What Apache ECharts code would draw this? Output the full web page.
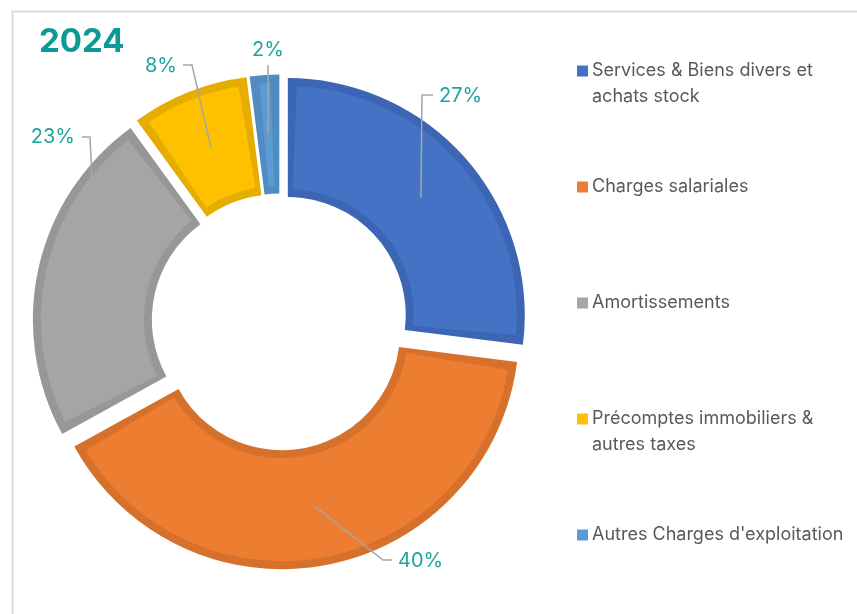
<!DOCTYPE html>
<html><head><meta charset="utf-8">
<script src="https://cdn.jsdelivr.net/npm/echarts@6/dist/echarts.min.js"></script>
<style>html,body{margin:0;padding:0;background:#fff}#c{width:857px;height:614px}</style>
</head><body><div id="c"></div>
<script>
// ---- data ----
const title = '2024';
const categories = ['Services & Biens divers et achats stock', 'Charges salariales', 'Amortissements', 'Précomptes immobiliers & autres taxes', "Autres Charges d'exploitation"];
const legendLines = [['Services & Biens divers et', 'achats stock'], ['Charges salariales'], ['Amortissements'], ['Précomptes immobiliers &', 'autres taxes'], ["Autres Charges d'exploitation"]];
const values = [27, 40, 23, 8, 2];
const fillColors = ['#4472C4', '#ED7D31', '#A5A5A5', '#FFC000', '#5B9BD5'];
const edgeColors = ['#3C66B4', '#D6712C', '#979797', '#E5AD00', '#508CC2'];

// ---- layout ----
const CX = 280, CY = 322, R_OUT = 237, R_IN = 118, EDGE = 8, OFFSET = 10.4, PAD = 4.5;
const FONT = 'Inter, "Open Sans", sans-serif';
const labelGuides = [
  { bend: [422, 95], end: [433, 95], text: [439, 96], align: 'left' },
  { bend: [383, 560], end: [392, 560], text: [398, 561], align: 'left' },
  { bend: [90, 137], end: [82, 137], text: [75, 137], align: 'right' },
  { bend: [192, 65], end: [183, 65], text: [177, 66], align: 'right' },
  { bend: null, end: [268, 65], text: [268, 50], align: 'center' }
];

const total = values.reduce((a, b) => a + b, 0);
let acc = 0;
const lineStarts = values.map(v => {
  const mid = (acc + v / 2) / total * 2 * Math.PI; acc += v;
  const ang = Math.PI / 2 - mid;
  const ox = CX + OFFSET * Math.cos(ang), oy = CY - OFFSET * Math.sin(ang);
  const rm = (R_OUT + R_IN) / 2;
  return [ox + rm * Math.cos(ang), oy - rm * Math.sin(ang)];
});

const chart = echarts.init(document.getElementById('c'), null, { renderer: 'canvas' });

function pieBase(extra) {
  return Object.assign({
    type: 'pie', center: [CX, CY], startAngle: 90, clockwise: true,
    avoidLabelOverlap: false, animation: false,
    emphasis: { disabled: true },
    label: { show: false }, labelLine: { show: false }
  }, extra);
}

chart.setOption({
  animation: false,
  title: {
    text: title, left: 39, top: 26, padding: 0,
    textStyle: { fontFamily: FONT, fontSize: 33, fontWeight: 'bold', color: '#0E9A94' }
  },
  legend: {
    orient: 'vertical', left: 577, top: 32, padding: 0,
    itemWidth: 11, itemHeight: 11, itemGap: 38, icon: 'rect',
    selectedMode: false,
    data: categories.map((n, i) => ({ name: n, itemStyle: { color: fillColors[i], borderWidth: 0 } })),
    formatter: function (name) {
      const lines = legendLines[categories.indexOf(name)].slice();
      lines.unshift('\u00a0');
      while (lines.length < 3) lines.push('\u00a0');
      return lines.join('\n');
    },
    textStyle: { fontFamily: FONT, fontSize: 18, color: '#595959', lineHeight: 26, padding: [0, 0, 0, -1] }
  },
  graphic: [{
    type: 'rect', left: 10, top: 9, silent: true,
    shape: { x: 0, y: 0, width: 900, height: 700 },
    style: { fill: 'none', stroke: '#D9D9D9', lineWidth: 2 }
  }],
  series: [
    pieBase({
      name: 'fill', z: 2, radius: [R_IN + EDGE, R_OUT - EDGE], padAngle: PAD,
      selectedMode: 'multiple', selectedOffset: OFFSET,
      itemStyle: { borderWidth: 0 },
      select: { itemStyle: { borderWidth: 0 } },
      data: categories.map((n, i) => ({ name: n, value: values[i], selected: true, itemStyle: { color: fillColors[i] } }))
    }),
    pieBase({
      name: 'edge', z: 1, radius: [R_IN, R_OUT],
      selectedMode: 'multiple', selectedOffset: OFFSET,
      itemStyle: { borderWidth: 0 },
      select: { itemStyle: { borderWidth: 0 } },
      data: categories.map((n, i) => ({ name: n, value: values[i], selected: true, itemStyle: { color: edgeColors[i] } }))
    }),
    pieBase({
      name: 'labels', z: 3, radius: [R_IN, R_OUT], silent: true,
      itemStyle: { color: 'rgba(0,0,0,0)', borderWidth: 0 },
      label: {
        show: true, position: 'outside', formatter: p => p.value + '%',
        fontFamily: FONT, fontSize: 20, color: '#1CA39E'
      },
      labelLine: { show: true, length: 10, length2: 10, lineStyle: { color: '#A6A6A6', width: 1.5 } },
      labelLayout: function (p) {
        const g = labelGuides[p.dataIndex];
        const pts = [lineStarts[p.dataIndex]];
        if (g.bend) pts.push(g.bend); else pts.push(g.end);
        pts.push(g.end);
        return { x: g.text[0], y: g.text[1], align: g.align, verticalAlign: 'middle', labelLinePoints: pts };
      },
      data: categories.map((n, i) => ({ name: n, value: values[i] }))
    })
  ]
});
</script>
</body></html>
